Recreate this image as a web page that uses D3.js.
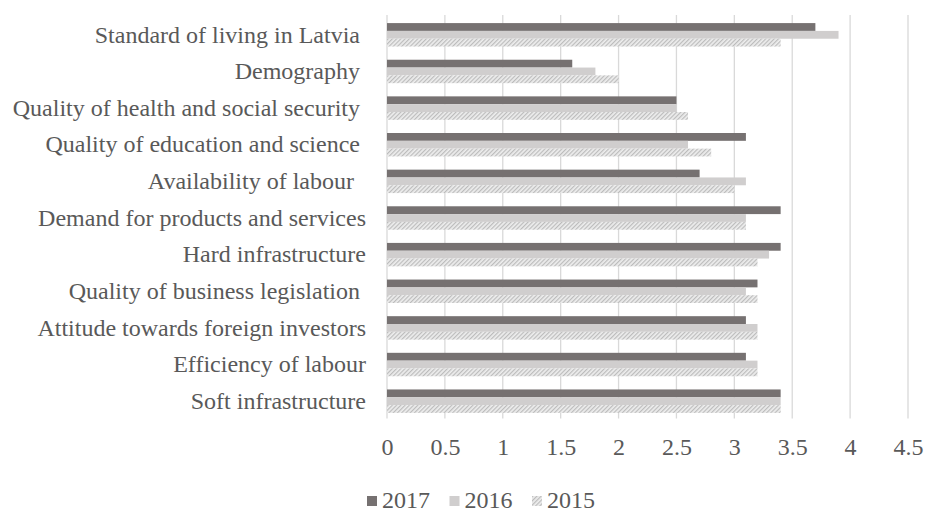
<!DOCTYPE html>
<html>
<head>
<meta charset="utf-8">
<script src="https://cdn.jsdelivr.net/npm/d3@7/dist/d3.min.js"></script>
<style>
  html, body { margin: 0; padding: 0; background: #fff; }
  svg { display: block; }
  text { font-family: "Liberation Serif", "Times New Roman", serif; fill: #595959; white-space: pre; }
</style>
</head>
<body>
<svg id="chart" width="926" height="513"></svg>
<script>
// Location factors, scored per year (top to bottom as listed)
const categories = [
  "Standard of living in Latvia ",
  "Demography ",
  "Quality of health and social security ",
  "Quality of education and science ",
  "Availability of labour  ",
  "Demand for products and services",
  "Hard infrastructure",
  "Quality of business legislation ",
  "Attitude towards foreign investors",
  "Efficiency of labour",
  "Soft infrastructure"
];
const seriesNames = ["2017", "2016", "2015"];
const values2017 = [3.7, 1.6, 2.5, 3.1, 2.7, 3.4, 3.4, 3.2, 3.1, 3.1, 3.4];
const values2016 = [3.9, 1.8, 2.5, 2.6, 3.1, 3.1, 3.3, 3.1, 3.2, 3.2, 3.4];
const values2015 = [3.4, 2.0, 2.6, 2.8, 3.0, 3.1, 3.2, 3.2, 3.2, 3.2, 3.4];
const xTicks = [0, 0.5, 1, 1.5, 2, 2.5, 3, 3.5, 4, 4.5];

const seriesValues = { "2017": values2017, "2016": values2016, "2015": values2015 };

const FONT = "Liberation Serif, Times New Roman, serif";
const FONT_SIZE = 24;

const svg = d3.select("#chart");

// hatched fill for the 2015 series
const defs = svg.append("defs");
const pat = defs.append("pattern")
  .attr("id", "hatch")
  .attr("patternUnits", "userSpaceOnUse")
  .attr("width", 3).attr("height", 3)
  .attr("patternTransform", "rotate(45)");
pat.append("rect").attr("width", 3).attr("height", 3).attr("fill", "#ededed");
pat.append("rect").attr("width", 1.2).attr("height", 3).attr("fill", "#bcbcbc");

const fills = { "2017": "#767171", "2016": "#d0cece", "2015": "url(#hatch)" };

const plot = { left: 387, right: 908, top: 16.5, bottom: 419.5 };

const x = d3.scaleLinear().domain([0, 4.5]).range([plot.left, plot.right]);
const y = d3.scaleBand().domain(categories).range([plot.top, plot.bottom])
  .paddingInner(0.36).paddingOuter(0.18);
const ySub = d3.scaleBand().domain(seriesNames).range([0, y.bandwidth()]);

// vertical gridlines
svg.append("g").selectAll("line").data(xTicks).join("line")
  .attr("x1", d => x(d)).attr("x2", d => x(d))
  .attr("y1", plot.top - 1.5).attr("y2", plot.bottom - 1)
  .attr("stroke", "#d9d9d9").attr("stroke-width", 1.3);

// bars
const groups = svg.append("g").selectAll("g").data(categories).join("g")
  .attr("transform", d => `translate(0,${y(d)})`);
groups.selectAll("rect")
  .data((c, i) => seriesNames.map(s => ({ s, v: seriesValues[s][i] })))
  .join("rect")
  .attr("x", x(0))
  .attr("y", d => ySub(d.s))
  .attr("width", d => x(d.v) - x(0))
  .attr("height", ySub.bandwidth())
  .attr("fill", d => fills[d.s]);

// category axis labels
const yAxis = d3.axisLeft(y).tickSize(0).tickPadding(0);
svg.append("g")
  .attr("transform", `translate(${plot.left - 21},0)`)
  .call(yAxis)
  .call(g => g.select(".domain").remove())
  .selectAll("text")
  .attr("xml:space", "preserve")
  .attr("font-size", FONT_SIZE)
  .attr("font-family", FONT)
  .attr("fill", "#595959");

// value axis labels
const xAxis = d3.axisBottom(x).tickValues(xTicks).tickSize(0).tickPadding(0)
  .tickFormat(d3.format("~g"));
svg.append("g")
  .attr("transform", `translate(0,${plot.bottom + 18})`)
  .call(xAxis)
  .call(g => g.select(".domain").remove())
  .selectAll("text")
  .attr("font-size", FONT_SIZE)
  .attr("font-family", FONT)
  .attr("fill", "#595959");

// legend
const legendX = d3.scalePoint().domain(seriesNames).range([367, 532]);
const lg = svg.append("g").selectAll("g").data(seriesNames).join("g")
  .attr("transform", d => `translate(${legendX(d)},496)`);
lg.append("rect").attr("width", 10).attr("height", 10).attr("fill", d => fills[d]);
lg.append("text").attr("x", 15).attr("y", 11.5)
  .attr("font-size", FONT_SIZE)
  .attr("font-family", FONT)
  .text(d => d);
</script>
</body>
</html>
